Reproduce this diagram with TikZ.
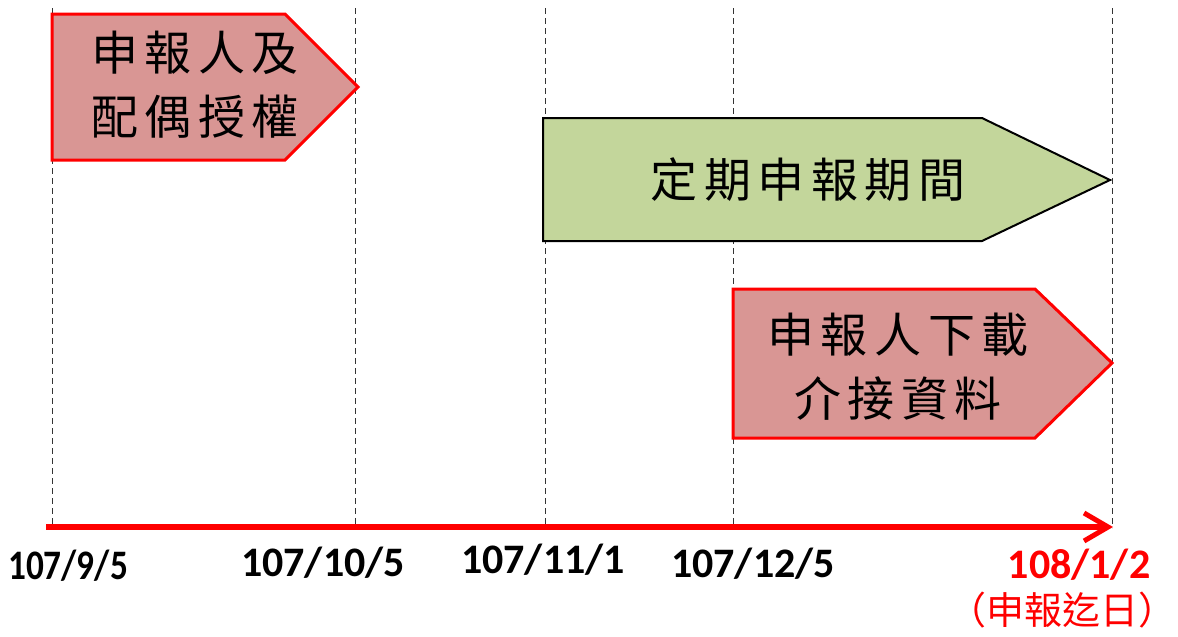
\documentclass[tikz,border=0pt]{standalone}
\usepackage{fontspec}
\usetikzlibrary{arrows.meta}
\setmainfont{Carlito}
\newfontfamily\cjk[LetterSpace=14]{Noto Sans CJK TC}
\newfontfamily\cjkr{Noto Sans CJK TC}
\definecolor{pinkfill}{HTML}{D99694}
\definecolor{greenfill}{HTML}{C3D69B}
\definecolor{pptred}{HTML}{FF0000}
\tikzset{
  redbox/.style={fill=pinkfill, draw=pptred, line width=3pt, line join=miter},
  greenbox/.style={fill=greenfill, draw=black, line width=2pt, line join=miter},
  boxtext/.style={font=\cjk\fontsize{47}{64}\selectfont, align=center, inner sep=0pt},
  guide/.style={draw=black!80, line width=0.9pt, dash pattern=on 6pt off 4pt},
  axis/.style={draw=pptred, line width=6pt, -{Straight Barb[length=24pt,width=28pt,line width=5pt]}},
  datelbl/.style={font=\bfseries\fontsize{42}{46}\selectfont, inner sep=0pt},
}
\begin{document}
\begin{tikzpicture}[x=1pt,y=-1pt]
\useasboundingbox (0,0) rectangle (1178,637);
% guide tops and axis points
\coordinate (t1) at (52,8);   \coordinate (b1) at (52,528);
\coordinate (t2) at (355,8);  \coordinate (b2) at (355,528);
\coordinate (t3) at (545,8);  \coordinate (b3) at (545,528);
\coordinate (t4) at (733,8);  \coordinate (b4) at (733,528);
\coordinate (t5) at (1112,8); \coordinate (b5) at (1112,528);
\foreach \i in {1,...,5} { \draw[guide] (t\i) -- (b\i); }
% boxes
\path[redbox] (52,14) -- (285,14) -- (358,87) -- (285,160) -- (52,160) -- cycle;
\node[boxtext] (auth) at (195,85) {申報人及\\配偶授權};
\path[greenbox] (543,118) -- (982,118) -- (1110,180) -- (982,241) -- (543,241) -- cycle;
\node[boxtext] (period) at (808,180) {定期申報期間};
\path[redbox] (733,289) -- (1035,289) -- (1112,363) -- (1035,438) -- (733,438) -- cycle;
\node[boxtext] (download) at (898,367) {申報人下載\\介接資料};
% axis
\coordinate (axs) at (46,527);
\coordinate (axe) at (1113,527);
\draw[axis] (axs) -- (axe);
% dates
\node[datelbl] (d1) at (68,566) {\scalebox{0.84}[1]{107/9/5}};
\node[datelbl] (d2) at (323,563) {107/10/5};
\node[datelbl] (d3) at (543,560) {107/11/1};
\node[datelbl] (d4) at (753,564) {107/12/5};
\node[datelbl, text=pptred] (d5) at (1079,565) {108/1/2};
\node[font=\cjkr\fontsize{38}{40}\selectfont, text=pptred, inner sep=0pt] (d5b) at (1062,610) {（申報迄日）};
\end{tikzpicture}
\end{document}
